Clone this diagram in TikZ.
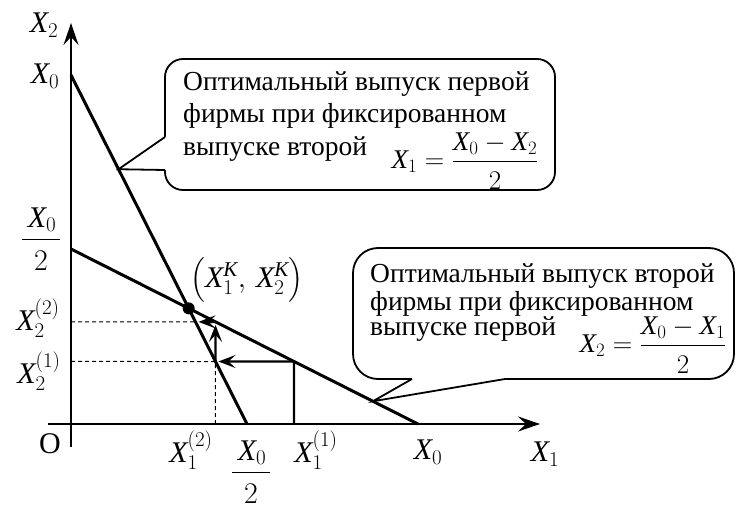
\documentclass[tikz,border=0pt]{standalone}
\usepackage{fix-cm}
\usepackage{amsmath}
\usepackage{fontspec}
\setmainfont{Liberation Serif}[NFSSFamily=lsr]
\DeclareMathAlphabet{\mathX}{TU}{lsr}{m}{it}
\usetikzlibrary{calc,arrows.meta,positioning}
\tikzstyle{axis} = [line width=2.2pt,-{Stealth[length=22pt,width=15pt,inset=8pt]}]
\tikzstyle{reaction} = [line width=3pt]
\tikzstyle{iter} = [line width=2.4pt,-{Stealth[length=17pt,width=13pt,inset=7pt]},shorten >=3pt]
\tikzstyle{guide} = [line width=1pt,dash pattern=on 4pt off 3pt]
\tikzstyle{callout} = [line width=1.8pt]
\tikzstyle{lbl} = [inner sep=0pt,font=\fontsize{30}{34}\selectfont]
\tikzstyle{formula} = [inner sep=0pt,font=\fontsize{27}{32}\selectfont]
\tikzstyle{txt} = [inner sep=0pt,anchor=base west,font=\fontsize{27.5}{32}\selectfont]
\newcommand{\Xv}{\mathX{X}}
\newcommand{\low}{\rule{0pt}{0.9em}}% pushes a denominator down
\newcommand{\half}{\dfrac{\hspace{6pt}\Xv_0\hspace{4pt}}{\low 2}}

\begin{document}
\begin{tikzpicture}[x=1pt,y=-1pt]
	\useasboundingbox (0,0) rectangle (736,508);

	%% axes and the two reaction lines
	\coordinate (O) at (71,424);
	\coordinate (Ytop) at (71,23);
	\coordinate (Ybot) at (71,447);
	\coordinate (Xleft) at (48,424);
	\coordinate (Xright) at (540,424);
	\coordinate (R1a) at (71,75);   % X0 on the X2 axis
	\coordinate (R1b) at (247,424); % X0/2 on the X1 axis
	\coordinate (R2a) at (71,249);  % X0/2 on the X2 axis
	\coordinate (R2b) at (418,424); % X0 on the X1 axis
	\coordinate (K) at
	  (intersection cs: first line={(R1a) -- (R1b)},
			    second line={(R2a) -- (R2b)});

	%% steps of the adjustment
	\coordinate (S0) at (294,424);
	\coordinate (S1) at
	  (intersection cs: first line={(S0) -- (S0|-K)},
			    second line={(R2a) -- (R2b)});
	\coordinate (S2) at
	  (intersection cs: first line={(S1) -- (S1-|O)},
			    second line={(R1a) -- (R1b)});
	\coordinate (S3) at
	  (intersection cs: first line={(S2) -- (S2|-K)},
			    second line={(R2a) -- (R2b)});
	\coordinate (S4) at
	  (intersection cs: first line={(S3) -- (S3-|O)},
			    second line={(R1a) -- (R1b)});

	\draw[guide] (S1-|O) -- (S2) -- (S2|-O);
	\draw[guide] (S3-|O) -- (S4);

	\draw[line width=2.4pt] (S0) -- (S1);
	\draw[iter] (S1) -- (S2);
	\draw[iter] (S2) -- (S3);
	\draw[iter] (S3) -- (S4);

	\draw[reaction] (R1a) -- (R1b);
	\draw[reaction] (R2a) -- (R2b);
	\fill (K) circle (6pt);

	\draw[axis] (Ybot) -- (Ytop);
	\draw[axis] (Xleft) -- (Xright);

	%% axis labels
	\node[lbl] (lX2) at (44,25) {$\Xv_2$};
	\node[lbl] (lX0y) at (45,76) {$\Xv_0$};
	\node[lbl] (lhalfy) at (41,239) {$\half$};
	\node[lbl] (lX22) at (38,318) {$\Xv_2^{(2)}$};
	\node[lbl] (lX21) at (39,371) {$\Xv_2^{(1)}$};
	\node[lbl] (lO) at (50,444) {O};
	\node[lbl] (lX12) at (191,450) {$\Xv_1^{(2)}$};
	\node[lbl] (lhalfx) at (251,472) {$\half$};
	\node[lbl] (lX11) at (316,450) {$\Xv_1^{(1)}$};
	\node[lbl] (lX0x) at (428,452) {$\Xv_0$};
	\node[lbl] (lX1) at (545,454) {$\Xv_1$};
	\node[lbl] (lK) at (247,280) {$\left(\Xv_1^{\mathX{K}},\, \Xv_2^{\mathX{K}}\right)$};

	%% callout for the first firm
	\coordinate (C1tip) at ($(R1a)!0.27!(R1b)$);
	\draw[callout,fill=white,rounded corners=18pt] (165,59) rectangle (555,190);
	\fill[white] (165,137) -- (C1tip) -- (165,170) -- (169,170) -- (169,137) -- cycle;
	\draw[callout,line join=miter] (165,137) -- (C1tip) -- (165,170);
	\node[txt] (t1a) at (183,91) {Оптимальный выпуск первой};
	\node[txt] (t1b) at (183,123) {фирмы при фиксированном};
	\node[txt] (t1c) at (183,155) {выпуске второй};
	\node[formula] (f1) at (465,161) {$\Xv_1 = \dfrac{\Xv_0 - \Xv_2}{\low 2}$};

	%% callout for the second firm
	\coordinate (C2tip) at ($(R2a)!0.87!(R2b)$);
	\draw[callout,fill=white,rounded corners=25pt] (353,248) rectangle (734,379);
	\fill[white] (412,379) -- (C2tip) -- (505,379) -- (505,375) -- (412,375) -- cycle;
	\draw[callout,line join=miter] (412,379) -- (C2tip) -- (505,379);
	\node[txt] (t2a) at (370,282) {Оптимальный выпуск второй};
	\node[txt] (t2b) at (370,310) {фирмы при фиксированном};
	\node[txt] (t2c) at (370,335) {выпуске первой};
	\node[formula] (f2) at (653,345) {$\Xv_2 = \dfrac{\Xv_0 - \Xv_1}{\low 2}$};
\end{tikzpicture}
\end{document}
